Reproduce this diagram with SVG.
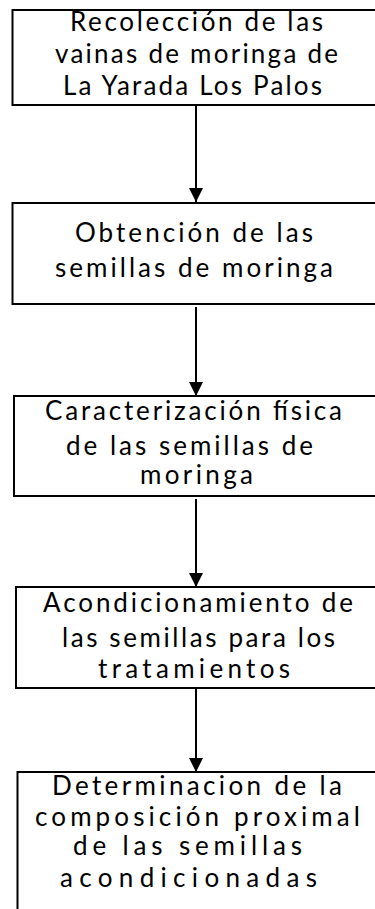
<svg xmlns="http://www.w3.org/2000/svg" width="375" height="909" viewBox="0 0 375 909">
<defs>
<marker id="ah" markerUnits="userSpaceOnUse" markerWidth="16" markerHeight="14" refX="15" refY="7.5" orient="auto" viewBox="0 0 15 15">
<path d="M0,0 L15,7.5 L0,15 Z" fill="#000"/>
</marker>
<style>
.box{fill:#fff;stroke:#000;stroke-width:2}
text{font-family:Lato,"Open Sans","Liberation Sans",sans-serif;font-size:26px;fill:#000}
.c{stroke:#000;stroke-width:2;fill:none}
</style>
</defs>
<rect width="375" height="909" fill="#fff"/>
<g id="connectors">
<line class="c" x1="196" y1="105" x2="196" y2="202" marker-end="url(#ah)"/>
<line class="c" x1="196" y1="307" x2="196" y2="396" marker-end="url(#ah)"/>
<line class="c" x1="196" y1="499" x2="196" y2="587" marker-end="url(#ah)"/>
<line class="c" x1="196" y1="688" x2="196" y2="772" marker-end="url(#ah)"/>
</g>
<g id="n1">
<rect class="box" x="12.5" y="10" width="375" height="95"/>
<text x="70" y="31" textLength="253" lengthAdjust="spacing">Recolección de las</text>
<text x="55" y="63" textLength="283" lengthAdjust="spacing">vainas de moringa de</text>
<text x="63" y="95" textLength="259" lengthAdjust="spacing">La Yarada Los Palos</text>
</g>
<g id="n2">
<rect class="box" x="12.5" y="203" width="375" height="101"/>
<text x="75" y="242" textLength="238" lengthAdjust="spacing">Obtención de las</text>
<text x="55" y="277" textLength="278" lengthAdjust="spacing">semillas de moringa</text>
</g>
<g id="n3">
<rect class="box" x="14" y="396" width="375" height="100"/>
<text x="45" y="420" textLength="297" lengthAdjust="spacing">Caracterización física</text>
<text x="66" y="455" textLength="247" lengthAdjust="spacing">de las semillas de</text>
<text x="140" y="484" textLength="113" lengthAdjust="spacing">moringa</text>
</g>
<g id="n4">
<rect class="box" x="16" y="587" width="375" height="101"/>
<text x="43" y="612" textLength="310" lengthAdjust="spacing">Acondicionamiento de</text>
<text x="62" y="647" textLength="273" lengthAdjust="spacing">las semillas para los</text>
<text x="98" y="678" textLength="192" lengthAdjust="spacing">tratamientos</text>
</g>
<g id="n5">
<rect class="box" x="17.5" y="772" width="375" height="160"/>
<text x="52" y="795" textLength="290" lengthAdjust="spacing">Determinacion de la</text>
<text x="35" y="826" textLength="325" lengthAdjust="spacing">composición proximal</text>
<text x="73" y="855" textLength="229" lengthAdjust="spacing">de las semillas</text>
<text x="60" y="887" textLength="257" lengthAdjust="spacing">acondicionadas</text>
</g>
</svg>
